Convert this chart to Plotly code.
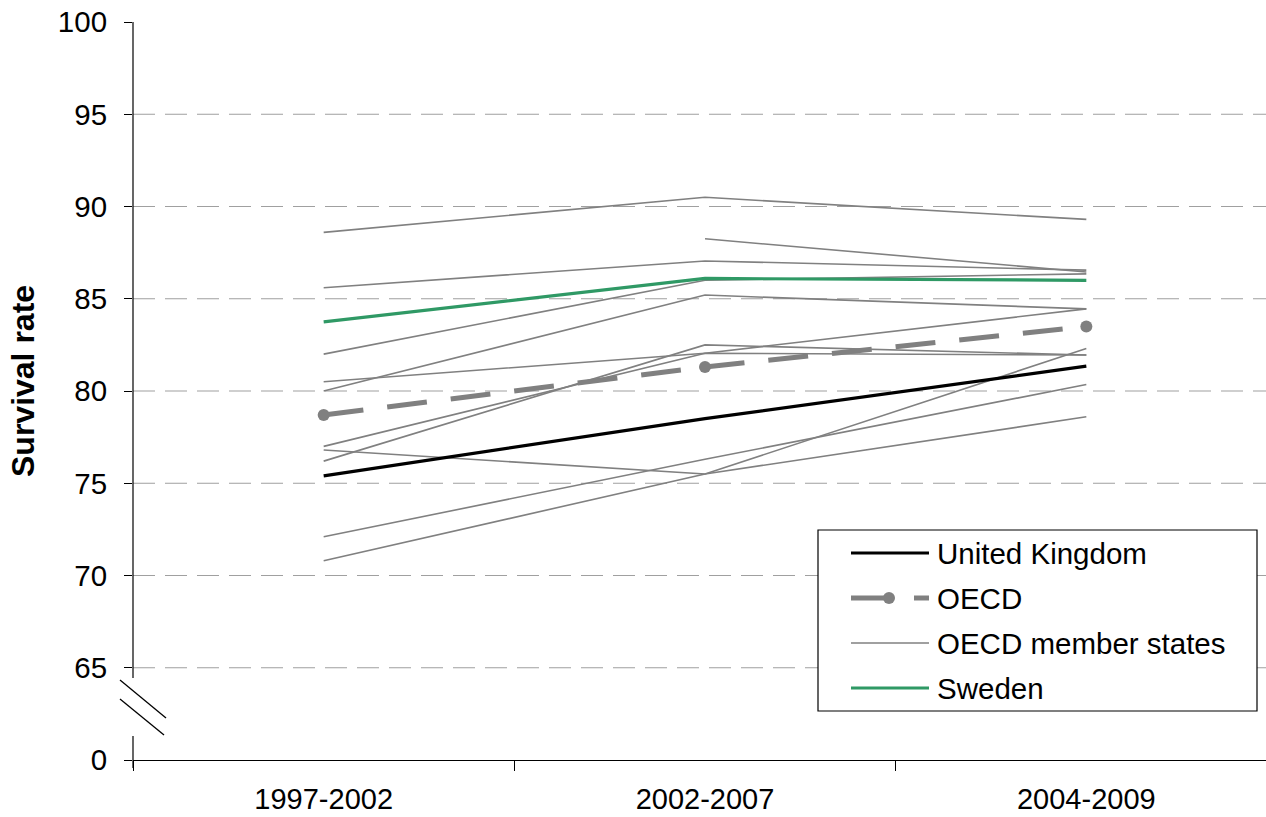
import plotly.graph_objects as go

# Periods on the x axis
periods = ["1997-2002", "2002-2007", "2004-2009"]

# Headline series
uk = [75.4, 78.5, 81.35]
oecd = [78.7, 81.3, 83.5]
sweden = [83.75, 86.1, 86.0]

# Individual OECD member states (None = no data for that period)
member_a = [88.6, 90.5, 89.3]
member_b = [85.6, 87.05, 86.55]
member_c = [None, 88.25, 86.45]
member_d = [82.0, 86.0, 86.35]
member_e = [80.0, 85.2, 84.45]
member_f = [80.5, 82.05, 81.95]
member_g = [77.0, 82.05, 84.45]
member_h = [76.2, 82.5, 81.95]
member_i = [76.8, 75.5, 78.6]
member_j = [72.1, 76.3, 80.35]
member_k = [70.8, 75.5, 82.3]
members = [member_a, member_b, member_c, member_d, member_e, member_f,
           member_g, member_h, member_i, member_j, member_k]

# Broken y axis: the value 0 sits where 60 would be
y_tick_vals = [60, 65, 70, 75, 80, 85, 90, 95, 100]
y_tick_text = ["0", "65", "70", "75", "80", "85", "90", "95", "100"]
grid_vals = [65, 70, 75, 80, 85, 90, 95]

legend_labels = ["United Kingdom", "OECD", "OECD member states", "Sweden"]
y_title = "Survival rate"

GREY = "#808080"
GREEN = "#2f9965"
FONT = "Arial, Liberation Sans, sans-serif"

fig = go.Figure()

for series in members:
    fig.add_trace(go.Scatter(
        x=periods, y=series, mode="lines",
        line=dict(color=GREY, width=1.6),
        showlegend=False, connectgaps=False, hoverinfo="skip"))

fig.add_trace(go.Scatter(
    x=periods, y=sweden, mode="lines",
    line=dict(color=GREEN, width=3.2), showlegend=False))
fig.add_trace(go.Scatter(
    x=periods, y=oecd, mode="lines+markers",
    line=dict(color=GREY, width=5, dash="40px,24px"),
    marker=dict(color=GREY, size=12, symbol="circle"), showlegend=False))
fig.add_trace(go.Scatter(
    x=periods, y=uk, mode="lines",
    line=dict(color="black", width=3.2), showlegend=False))

# Plot geometry in pixels (used to place decorations in paper space)
W, H = 1266, 817
L, T, B = 133, 22, 57
PW, PH = W - L, H - T - B


def px(x):
    return (x - L) / PW


def py(y):
    return (H - B - y) / PH


shapes = []
# dashed horizontal gridlines
for g in grid_vals:
    shapes.append(dict(type="line", xref="paper", yref="y", x0=0, x1=1, y0=g, y1=g,
                       line=dict(color="#a0a0a0", width=1.2, dash="22px,10px"),
                       layer="below"))
# left axis line, interrupted by the break marks
shapes.append(dict(type="line", xref="paper", yref="paper", x0=0, x1=0,
                   y0=1, y1=py(678), line=dict(color="black", width=1.2)))
shapes.append(dict(type="line", xref="paper", yref="paper", x0=0, x1=0,
                   y0=py(736), y1=py(768), line=dict(color="black", width=1.2)))
# break marks
shapes.append(dict(type="line", xref="paper", yref="paper", x0=px(120), x1=px(166),
                   y0=py(680), y1=py(718), line=dict(color="black", width=1.3)))
shapes.append(dict(type="line", xref="paper", yref="paper", x0=px(120), x1=px(164),
                   y0=py(699), y1=py(735), line=dict(color="black", width=1.3)))

# legend box
shapes.append(dict(type="rect", xref="paper", yref="paper", x0=px(818), x1=px(1257),
                   y0=py(711), y1=py(530), line=dict(color="black", width=1.2),
                   fillcolor="white", layer="above"))
legend_y = [553, 598, 643, 688]
# United Kingdom sample
shapes.append(dict(type="line", xref="paper", yref="paper", x0=px(851), x1=px(929),
                   y0=py(legend_y[0]), y1=py(legend_y[0]),
                   line=dict(color="black", width=3.2), layer="above"))
# OECD sample: dash with marker, then short dash
shapes.append(dict(type="line", xref="paper", yref="paper", x0=px(851), x1=px(893),
                   y0=py(legend_y[1]), y1=py(legend_y[1]),
                   line=dict(color=GREY, width=5), layer="above"))
shapes.append(dict(type="line", xref="paper", yref="paper", x0=px(914), x1=px(929),
                   y0=py(legend_y[1]), y1=py(legend_y[1]),
                   line=dict(color=GREY, width=5), layer="above"))
shapes.append(dict(type="circle", xref="paper", yref="paper", x0=px(883), x1=px(895),
                   y0=py(legend_y[1] + 6), y1=py(legend_y[1] - 6),
                   line=dict(color=GREY, width=0), fillcolor=GREY, layer="above"))
# member states sample
shapes.append(dict(type="line", xref="paper", yref="paper", x0=px(851), x1=px(929),
                   y0=py(legend_y[2]), y1=py(legend_y[2]),
                   line=dict(color=GREY, width=1.6), layer="above"))
# Sweden sample
shapes.append(dict(type="line", xref="paper", yref="paper", x0=px(851), x1=px(929),
                   y0=py(legend_y[3]), y1=py(legend_y[3]),
                   line=dict(color=GREEN, width=3.2), layer="above"))

annotations = []
for label, ly in zip(legend_labels, legend_y):
    annotations.append(dict(text=label, xref="paper", yref="paper", x=px(935), y=py(ly),
                            xanchor="left", yanchor="middle", showarrow=False,
                            font=dict(family=FONT, size=29.5, color="black")))
# rotated y-axis title
annotations.append(dict(text="<b>" + y_title + "</b>", xref="paper", yref="paper",
                        x=px(23), y=py(381), xanchor="center", yanchor="middle",
                        textangle=-90, showarrow=False,
                        font=dict(family=FONT, size=32, color="black")))

fig.update_layout(
    width=W, height=H,
    margin=dict(l=L, r=0, t=T, b=B, pad=0, autoexpand=False),
    paper_bgcolor="white", plot_bgcolor="white",
    font=dict(family=FONT, size=30, color="black"),
    shapes=shapes, annotations=annotations,
    showlegend=False,
    xaxis=dict(
        type="category", range=[-0.5, 2.5 - 11 / 381.5], automargin=False,
        showline=True, linecolor="black", linewidth=1.2,
        ticks="outside", tickson="boundaries", ticklen=10, tickcolor="black",
        tickwidth=1.2, showgrid=False, tickfont=dict(size=29),
        ticklabelstandoff=13,
    ),
    yaxis=dict(
        range=[60, 100], tickvals=y_tick_vals, ticktext=y_tick_text,
        automargin=False,
        showline=False, showgrid=False, zeroline=False,
        ticks="outside", ticklen=8, tickcolor="black", tickwidth=1.2,
        ticklabelstandoff=11, tickfont=dict(size=29.5),
    ),
)

fig.write_html("out.html")
